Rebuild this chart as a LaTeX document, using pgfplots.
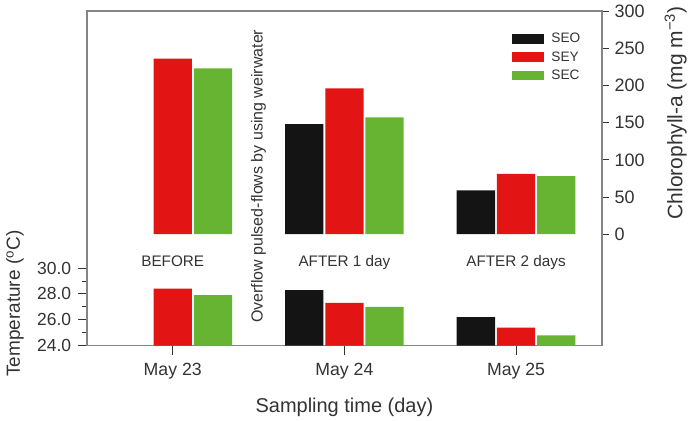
\documentclass[border=0pt]{standalone}
\usepackage{pgfplots}
\pgfplotsset{compat=1.18}
\usepackage{fontspec}
\setmainfont{Liberation Sans}

\definecolor{cSEO}{HTML}{141414}
\definecolor{cSEY}{HTML}{E31414}
\definecolor{cSEC}{HTML}{67B432}
\definecolor{framegray}{HTML}{858585}
\definecolor{txt}{HTML}{333333}

\begin{document}
\begin{tikzpicture}[x=1pt,y=1pt]
\pgfplotsset{
  panel/.style={
    scale only axis, width=515.5pt, xmin=0.5, xmax=3.5,
    axis line style={draw=framegray, line width=1.4pt},
    tick style={draw=txt, line width=0.9pt},
    tick align=outside,
    ticklabel style={text=txt, inner sep=0pt},
    /pgf/number format/assume math mode=true,
    ybar, bar width=0.223,
  },
}
% upper panel: chlorophyll-a, right axis
\begin{axis}[panel, at={(0,0)}, anchor=south west, height=335pt,
  ymin=-149.7, ymax=300, xtick=\empty,
  ytick={0,50,...,300}, ytick pos=right, yticklabel pos=right,
  major tick length=7pt,
  yticklabel style={font=\fontsize{18}{18}\selectfont, anchor=west, xshift=5.5pt},
  every axis y label/.style={at={(axis description cs:1.1562,0.6955)}, rotate=90, anchor=base},
  ylabel={Chlorophyll-a (mg m\textsuperscript{−3})},
  ylabel style={font=\fontsize{21}{21}\selectfont, text=txt},
  legend style={at={(axis description cs:0.825,0.9334)}, anchor=north west,
    draw=none, fill=none, inner sep=0pt, outer sep=0pt,
    row sep=7.2pt, column sep=7.7pt,
    nodes={inner sep=0pt, text=txt},
    font=\fontsize{13.7}{13.7}\selectfont},
  legend cell align=left,
  legend image code/.code={\fill[#1] (0pt,-4.8pt) rectangle (32pt,4.8pt);},
]
\addplot[fill=cSEO, draw=none, bar shift=-0.234] coordinates {(2,148) (3,59)};
\addplot[fill=cSEY, draw=none, bar shift=0] coordinates {(1,236) (2,196) (3,81)};
\addplot[fill=cSEC, draw=none, bar shift=0.234] coordinates {(1,223) (2,157) (3,78)};
\legend{SEO,SEY,SEC}
\node[rotate=90, anchor=base, text=txt, font=\fontsize{16}{16}\selectfont]
  at (axis cs:1.524,77.9) {Overflow pulsed-flows by using weirwater};
\begin{scope}[font=\fontsize{15.3}{15.3}\selectfont, text=txt]
\node[anchor=base] at (axis cs:1,-44) {BEFORE};
\node[anchor=base] at (axis cs:2,-44) {AFTER 1 day};
\node[anchor=base] at (axis cs:3,-44) {AFTER 2 days};
\end{scope}
\end{axis}

% lower panel: temperature, left axis
\begin{axis}[panel, at={(0,0)}, anchor=south west, height=77.7pt,
  ymin=24, ymax=30,
  axis x line*=bottom, axis y line*=left,
  xtick={1,2,3}, xticklabels={May 23,May 24,May 25},
  ytick={24,26,28,30}, minor ytick={25,27,29},
  major tick length=9pt, minor tick length=4.5pt,
  yticklabel style={font=\fontsize{17.5}{17.5}\selectfont, anchor=east, xshift=-6.6pt,
    /pgf/number format/.cd, fixed, fixed zerofill, precision=1},
  xticklabel style={font=\fontsize{17.7}{17.7}\selectfont, anchor=north, yshift=-8pt},
  every axis y label/.style={at={(axis description cs:-0.130,0.5405)}, rotate=90, anchor=base},
  ylabel={Temperature (\textsuperscript{o}C)},
  ylabel style={font=\fontsize{19}{19}\selectfont, text=txt},
  every axis x label/.style={at={(axis description cs:0.5,-0.862)}, anchor=base},
  xlabel={Sampling time (day)},
  xlabel style={font=\fontsize{20}{20}\selectfont, text=txt},
]
\addplot[fill=cSEO, draw=none, bar shift=-0.234] coordinates {(2,28.3) (3,26.2)};
\addplot[fill=cSEY, draw=none, bar shift=0] coordinates {(1,28.4) (2,27.3) (3,25.4)};
\addplot[fill=cSEC, draw=none, bar shift=0.234] coordinates {(1,27.9) (2,27.0) (3,24.8)};
\end{axis}

\path[use as bounding box] (-87pt,-72pt) rectangle (603pt,346pt);
\end{tikzpicture}
\end{document}
